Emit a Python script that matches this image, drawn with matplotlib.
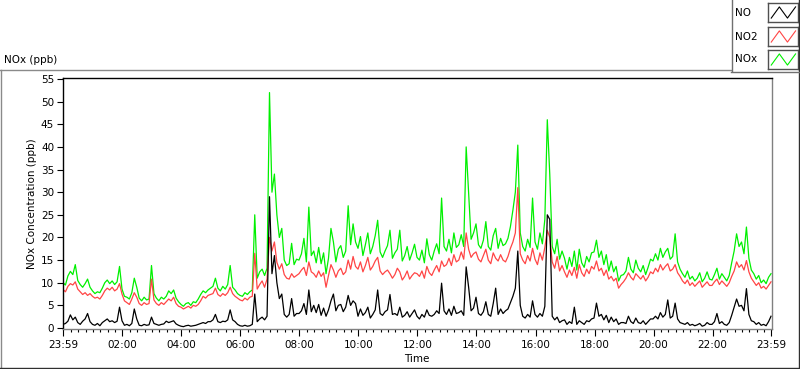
import numpy as np
import matplotlib.pyplot as plt
from matplotlib.lines import Line2D

# minutes after midnight, 5 minute samples from 23:59 to 23:59
minutes = np.arange(-1, 1440, 5)

# NO2 (ppb), one row per hour
no2_ppb = [
    8.5, 8.0, 9.2, 9.8, 9.5, 10.2, 8.6, 8.0, 7.4, 7.8, 7.2, 7.6,
    7.0, 6.6, 6.8, 6.4, 7.2, 8.2, 8.8, 8.4, 9.0, 8.2, 8.6, 9.8,
    7.5, 6.0, 5.6, 5.2, 6.4, 7.8, 6.8, 5.4, 5.0, 5.6, 5.2, 5.4,
    10.8, 6.2, 5.4, 5.0, 5.6, 5.2, 5.8, 6.4, 6.0, 6.8, 5.4, 4.8,
    4.6, 4.2, 4.5, 4.8, 4.4, 5.0, 4.8, 5.2, 6.0, 7.0, 6.6, 7.2,
    7.4, 7.6, 8.8, 7.4, 7.0, 7.6, 7.2, 7.8, 9.0, 7.6, 7.0, 6.6,
    6.2, 6.0, 6.6, 6.2, 6.8, 7.0, 16.5, 8.6, 9.6, 10.4, 9.0, 10.8,
    20.0, 17.0, 19.0, 14.5, 13.0, 14.2, 11.8, 11.0, 10.8, 12.0, 11.2, 11.6,
    12.0, 12.8, 13.4, 11.6, 14.6, 12.4, 12.0, 11.2, 12.6, 11.4, 12.2, 9.0,
    11.6, 14.0, 12.8, 11.2, 12.6, 13.2, 11.8, 12.4, 15.0, 13.0, 15.8, 13.6,
    13.0, 14.6, 12.4, 13.8, 15.6, 12.8, 13.6, 14.8, 15.6, 12.6, 11.8, 12.4,
    12.8, 12.0, 11.0, 11.8, 13.2, 12.4, 10.6, 11.4, 12.6, 10.8, 11.6, 12.2,
    12.0, 11.4, 12.6, 11.0, 13.6, 12.2, 11.6, 12.8, 13.8, 12.4, 14.8, 13.6,
    14.0, 15.4, 13.8, 16.2, 14.6, 15.0, 16.8, 15.2, 21.0, 17.4, 15.6, 16.4,
    16.8, 15.2, 14.6, 16.0, 17.4, 15.0, 14.2, 16.6, 15.4, 14.8, 16.2, 15.0,
    14.6, 15.8, 17.6, 19.0, 21.0, 31.0, 16.4, 15.0, 14.2, 16.0, 14.8, 17.6,
    15.2, 14.0, 16.6, 15.0, 17.8, 21.6, 20.0, 14.6, 13.2, 15.8, 12.6, 13.8,
    12.4, 11.2, 12.8, 11.6, 13.4, 11.0, 14.0, 12.2, 11.4, 13.0, 12.0, 13.6,
    13.0, 14.8, 12.6, 13.2, 11.6, 12.8, 10.8, 11.4, 10.4, 11.0, 8.8, 9.6,
    10.2, 11.0, 12.2, 11.2, 10.6, 12.0, 11.4, 10.8, 11.6, 10.4, 11.2, 12.4,
    12.0, 13.2, 12.4, 14.0, 12.8, 13.6, 14.2, 12.6, 13.0, 14.0, 12.2, 11.4,
    10.4, 9.8, 10.6, 9.4, 10.0, 9.2, 9.8, 10.4, 9.0, 9.6, 10.2, 9.4,
    9.4, 10.2, 10.8, 9.6, 10.4, 9.8, 9.2, 10.0, 11.4, 12.6, 14.6, 13.4,
    14.0, 12.8, 14.9, 12.4, 11.0, 10.2, 9.4, 10.0, 8.8, 9.2, 8.6, 9.4,
    10.2,
]

# NOx (ppb)
nox_ppb = [
    10.0, 9.5, 11.5, 12.5, 11.8, 14.0, 10.5, 9.6, 9.0, 9.8, 10.8, 9.0,
    8.2, 7.6, 8.0, 7.8, 8.8, 10.0, 10.6, 9.8, 10.4, 9.6, 10.2, 13.6,
    8.6, 7.0, 6.8, 6.4, 7.8, 11.0, 9.0, 6.6, 6.0, 6.8, 6.2, 6.4,
    13.8, 7.6, 6.6, 6.0, 6.8, 6.4, 7.0, 8.2, 7.6, 8.4, 6.6, 5.8,
    5.2, 4.8, 5.4, 5.6, 5.0, 5.8, 5.6, 6.4, 7.4, 8.2, 7.8, 8.4,
    8.8, 9.2, 11.0, 8.8, 8.2, 9.2, 8.6, 9.6, 13.8, 9.0, 8.4, 7.6,
    7.2, 7.0, 7.8, 7.4, 8.0, 8.4, 25.0, 11.0, 12.4, 13.0, 11.6, 13.2,
    52.0, 30.0, 34.0, 25.0, 20.0, 22.0, 15.0, 13.8, 14.2, 18.7, 14.0, 15.2,
    15.0, 16.4, 19.8, 14.6, 26.7, 16.0, 17.0, 14.4, 17.8, 14.2, 16.6, 12.0,
    15.4, 22.0, 19.0, 14.6, 17.4, 18.2, 15.6, 17.0, 27.0, 18.4, 23.0, 19.0,
    17.6, 20.2, 16.0, 18.4, 21.0, 16.4, 18.0, 20.4, 23.8, 16.8, 15.6, 17.0,
    18.2, 21.6, 15.4, 16.6, 17.4, 21.6, 14.8, 16.0, 18.0, 15.0, 16.6, 18.5,
    15.6, 15.0, 17.2, 14.4, 19.7, 16.2, 15.0, 17.0, 18.6, 16.4, 28.7, 18.0,
    17.0, 19.6, 16.6, 21.0, 17.8, 18.4, 20.6, 18.0, 40.0, 30.0, 19.6, 21.0,
    23.0, 18.4, 17.6, 19.4, 23.5, 18.0, 17.2, 20.4, 22.0, 17.6, 19.8, 18.2,
    18.6, 19.8, 22.4, 26.0, 30.0, 40.4, 21.0, 18.0, 17.0, 19.6, 17.8, 28.7,
    19.0, 17.4, 21.0, 18.6, 24.0, 46.0, 34.0, 18.0, 16.4, 19.6, 15.2, 17.0,
    15.4, 13.0, 15.6, 13.6, 17.0, 12.8, 17.4, 14.4, 13.4, 15.8, 14.6, 16.6,
    16.8, 19.4, 15.6, 17.0, 14.0, 16.2, 12.6, 14.8, 12.4, 13.6, 10.4, 11.6,
    11.8, 12.6, 15.6, 13.0, 12.2, 15.0, 13.2, 12.4, 13.8, 11.8, 13.4, 15.2,
    14.8, 16.4, 15.0, 17.6, 15.6, 16.8, 17.6, 15.2, 15.8, 20.8, 14.6, 13.0,
    12.0, 11.2, 12.6, 10.8, 11.4, 10.4, 11.0, 12.2, 10.2, 11.0, 12.4, 10.8,
    10.6, 11.8, 13.2, 10.8, 12.0, 11.2, 10.4, 11.6, 14.4, 17.0, 20.8, 18.0,
    19.0, 16.4, 22.3, 15.4, 12.8, 12.0, 10.8, 11.6, 10.0, 10.6, 9.8, 11.2,
    12.0,
]

# NO (ppb)
no_ppb = [
    0.8, 1.0, 1.5, 2.9, 1.8, 2.4, 1.2, 0.8, 1.5, 2.0, 3.2, 1.4,
    0.8, 0.6, 1.0, 0.5, 1.2, 1.6, 2.0, 1.4, 1.6, 1.2, 1.5, 4.6,
    1.6, 0.6, 0.8, 0.5, 1.0, 4.2, 2.0, 0.6, 0.5, 0.8, 0.6, 0.7,
    2.4, 1.0, 0.8, 0.6, 0.8, 0.9, 1.5, 1.2, 1.4, 1.6, 0.9, 0.6,
    0.4, 0.3, 0.5, 0.6, 0.4, 0.5, 0.6, 0.8, 1.0, 1.2, 1.0, 1.4,
    1.4, 1.8, 3.0, 1.4, 1.2, 1.5, 1.4, 1.8, 4.0, 1.8, 1.4, 0.8,
    0.5, 0.4, 0.6, 0.4, 0.5, 0.8, 7.5, 1.4, 2.0, 2.4, 1.8, 2.6,
    29.0, 12.0, 16.0, 10.0, 6.5, 7.5, 3.0, 2.4, 3.0, 6.5, 2.6, 3.2,
    3.2, 3.8, 5.4, 3.0, 8.4, 3.6, 5.0, 3.4, 5.2, 2.8, 4.4, 2.6,
    4.0, 6.0, 7.5, 3.8, 5.0, 5.2, 3.6, 4.6, 7.2, 5.0, 6.0, 5.4,
    2.6, 4.2, 2.8, 3.4, 4.6, 2.2, 3.0, 4.0, 8.4, 3.2, 2.8, 3.6,
    4.0, 7.4, 3.0, 3.2, 2.8, 4.6, 2.4, 2.8, 3.6, 2.4, 3.2, 4.0,
    2.6, 2.0, 3.0, 2.4, 4.0, 2.8, 2.6, 3.0, 3.8, 3.2, 9.9, 3.8,
    3.0, 4.2, 2.8, 4.8, 3.2, 3.4, 3.8, 2.8, 13.5, 9.0, 3.8, 4.4,
    6.8, 3.2, 2.8, 3.6, 5.8, 3.0, 2.6, 5.4, 8.8, 3.0, 4.2, 3.2,
    3.8, 4.2, 5.6, 7.0, 8.8, 17.0, 5.0, 2.6, 2.2, 3.0, 2.4, 6.0,
    3.0, 2.4, 3.2, 2.6, 4.8, 25.0, 24.0, 2.6, 1.8, 2.4, 1.2, 1.6,
    1.8, 0.8, 1.4, 1.0, 4.6, 0.8, 1.6, 1.2, 0.8, 1.6, 1.4, 2.0,
    2.2, 5.5, 2.6, 3.0, 1.8, 2.8, 1.2, 2.4, 1.4, 2.0, 0.8, 1.2,
    1.2, 1.0, 2.6, 1.4, 1.0, 2.2, 1.2, 1.0, 1.6, 0.8, 1.4, 2.0,
    2.0, 2.6, 2.0, 3.4, 2.4, 3.0, 6.2, 2.2, 2.6, 5.5, 2.0, 1.2,
    1.0, 0.8, 1.2, 0.6, 0.8, 0.5, 0.7, 1.0, 0.4, 0.6, 1.2, 0.8,
    0.8, 1.4, 3.2, 1.0, 1.4, 0.8, 0.6, 1.2, 2.8, 4.6, 6.4, 4.8,
    5.0, 3.8, 8.7, 3.0, 1.6, 1.4, 0.8, 1.2, 0.6, 0.8, 0.5, 1.4,
    2.6,
]

tick_minutes = [-1, 120, 240, 360, 480, 600, 720, 840, 960, 1080, 1200, 1320, 1439]
tick_labels = ["23:59", "02:00", "04:00", "06:00", "08:00", "10:00", "12:00",
               "14:00", "16:00", "18:00", "20:00", "22:00", "23:59"]
minor_minutes = [m for m in range(15, 1440, 15) if m % 120 != 0]

RED = "#ff4545"
GREEN = "#00f000"
W, H = 800, 369

plt.rcParams['font.family'] = ['DejaVu Sans']
fig = plt.figure(figsize=(W / 100, H / 100), dpi=100)


def fx(x):
    return x / W


def fy(y):
    return 1 - y / H


def hline(x0, x1, y, color):
    fig.add_artist(Line2D([fx(x0), fx(x1)], [fy(y), fy(y)], color=color, lw=1))


def vline(x, y0, y1, color):
    fig.add_artist(Line2D([fx(x), fx(x)], [fy(y0), fy(y1)], color=color, lw=1))


# outer panel
hline(0, 731, 69.5, "#8a8a8a")
vline(0.5, 69.5, 368, "#8a8a8a")
hline(0, 799, 367.5, "#303030")
vline(798.5, 0, 368, "#303030")

ax = fig.add_axes([fx(62.5), fy(329), fx(772 - 62.5), (329 - 78) / H])
ax.plot(minutes, nox_ppb, color=GREEN, lw=0.9)
ax.plot(minutes, no2_ppb, color=RED, lw=0.9)
ax.plot(minutes, no_ppb, color="black", lw=0.9)

ax.set_xlim(-2, 1441)
ax.set_ylim(-0.22, 55.22)
ax.set_yticks(range(0, 56, 5))
ax.set_xticks(tick_minutes)
ax.set_xticklabels(tick_labels)
ax.set_xticks(minor_minutes, minor=True)
ax.tick_params(axis='both', labelsize=7.5, color="black", width=0.8)
ax.tick_params(axis='y', length=4, pad=2)
ax.tick_params(axis='x', which='major', length=5, pad=3)
ax.tick_params(axis='x', which='minor', length=2.5, width=0.8)
for side in ['left', 'top']:
    ax.spines[side].set_color("black")
for side in ['right', 'bottom']:
    ax.spines[side].set_color("#808080")
for sp in ax.spines.values():
    sp.set_linewidth(1)

ax.set_ylabel("NOx Concentration (ppb)", fontsize=7.5)
ax.yaxis.set_label_coords(-0.036, 0.5)
ax.set_xlabel("Time", fontsize=7.5, labelpad=3)

fig.text(fx(4), fy(60), "NOx (ppb)", fontsize=7.5, va='center', ha='left')

# legend box
vline(731.5, 0, 71, "#707070")
hline(731, 799, 71.5, "#707070")
legend_rows = [("NO", "black", 3, 22), ("NO2", RED, 27, 46), ("NOx", GREEN, 50, 69)]
for name, col, top, bottom in legend_rows:
    fig.text(fx(735), fy((top + bottom) / 2), name, fontsize=7.5, va='center', ha='left')
    sw = fig.add_axes([fx(768), fy(bottom), fx(30), (bottom - top) / H])
    sw.plot([0, 1, 2, 3], [0, 1, 0, 1], color=col, lw=0.8)
    sw.set_xlim(-0.4, 3.3)
    sw.set_ylim(-0.35, 1.35)
    sw.set_xticks([])
    sw.set_yticks([])
    for sp in sw.spines.values():
        sp.set_color("#505050")
        sp.set_linewidth(1)

fig.savefig("out.png", dpi=100)
